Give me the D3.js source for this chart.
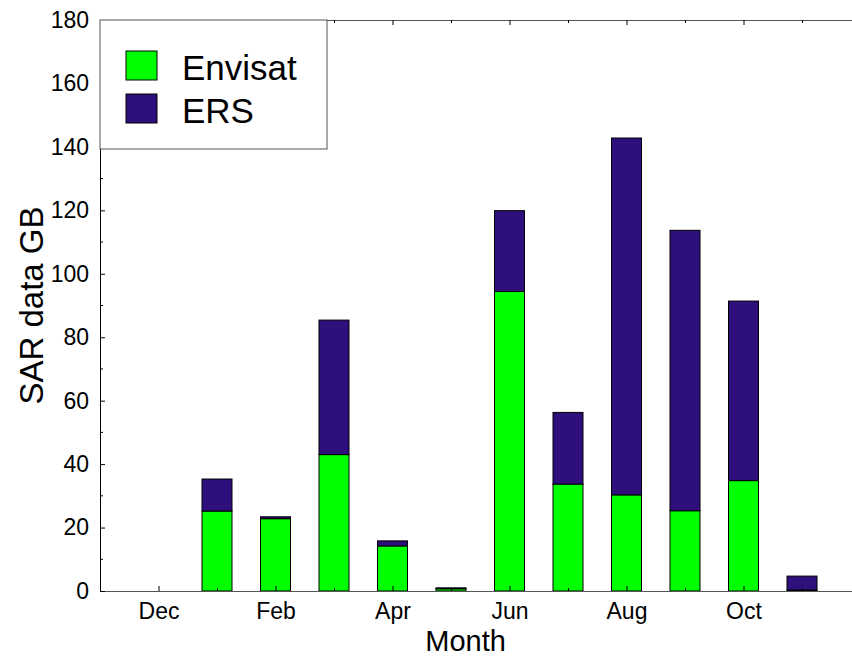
<!DOCTYPE html>
<html>
<head>
<meta charset="utf-8">
<script src="https://cdn.jsdelivr.net/npm/d3@7"></script>
<style>
  body { margin: 0; background: #fff; }
  svg text { font-family: "Liberation Sans", Arial, sans-serif; fill: #000; }
</style>
</head>
<body>
<div id="chart"></div>
<script>
// data
var months = ["Dec", "Jan", "Feb", "Mar", "Apr", "May", "Jun", "Jul", "Aug", "Sep", "Oct", "Nov"];
var envisat = [0, 25.2, 22.8, 43.0, 14.2, 0.7, 94.4, 33.7, 30.3, 25.3, 34.8, 0.3];
var ers = [0, 10.1, 0.6, 42.4, 1.6, 0.3, 25.5, 22.6, 112.5, 88.4, 56.6, 4.4];
var yTicks = [0, 20, 40, 60, 80, 100, 120, 140, 160, 180];
var seriesNames = ["Envisat", "ERS"];
var colors = ["#00ff00", "#2e0f7c"];

var width = 852, height = 659;
var margin = {top: 20, left: 100, bottom: 591};

var rows = months.map(function (m, i) {
    return {month: m, idx: i + 1, Envisat: envisat[i], ERS: ers[i]};
});

var x = d3.scaleLinear().domain([0, 13]).range([margin.left, margin.left + 13 * 58.5]);
var y = d3.scaleLinear().domain([0, 180]).range([margin.bottom, margin.top]);
var color = d3.scaleOrdinal().domain(seriesNames).range(colors);
var barW = 30;

var svg = d3.select("#chart").append("svg")
    .attr("width", width)
    .attr("height", height);

var stacked = d3.stack().keys(seriesNames)(rows);

// bars
svg.append("g").selectAll("g")
    .data(stacked)
    .enter().append("g")
    .attr("fill", function (d) { return color(d.key); })
    .selectAll("rect")
    .data(function (d) { return d.filter(function (p) { return p[1] - p[0] > 0; }); })
    .enter().append("rect")
    .attr("x", function (d) { return x(d.data.idx) - barW / 2; })
    .attr("width", barW)
    .attr("y", function (d) { return y(d[1]); })
    .attr("height", function (d) { return y(d[0]) - y(d[1]); })
    .attr("stroke", "#000")
    .attr("stroke-width", 1);

// x ticks (all months), labels on every other
var xIdx = d3.range(1, 14);
var axisColor = "#555";

function styleAxis(g) {
    g.select(".domain").attr("stroke", axisColor);
    g.selectAll(".tick line").attr("stroke", "#000");
}

var xBottom = svg.append("g")
    .attr("transform", "translate(0," + y(0) + ")")
    .call(d3.axisBottom(x).tickValues(xIdx).tickSizeOuter(0).tickSizeInner(-5)
        .tickFormat(function (d) { return (d - 1) % 2 === 0 && d <= 12 ? months[d - 1] : ""; }))
    .call(styleAxis);
xBottom.selectAll(".tick line").attr("y2", function (d) { return (d - 1) % 2 === 0 ? -5 : -3; });
xBottom.selectAll(".tick text").attr("y", 12).attr("dy", "0.71em").style("font-size", "23px");

var xTop = svg.append("g")
    .attr("transform", "translate(0," + y(180) + ")")
    .call(d3.axisTop(x).tickValues(xIdx).tickSizeOuter(0).tickSizeInner(-5).tickFormat(""))
    .call(styleAxis);
xTop.selectAll(".tick line").attr("y2", function (d) { return (d - 1) % 2 === 0 ? 5 : 3; });

// y axis with minor ticks
var yAxis = svg.append("g")
    .attr("transform", "translate(" + margin.left + ",0)")
    .call(d3.axisLeft(y).tickValues(yTicks).tickSizeOuter(0).tickSizeInner(-5).tickPadding(11))
    .call(styleAxis);
yAxis.select(".domain").attr("stroke", "#000");
yAxis.selectAll(".tick text").style("font-size", "23px");

svg.append("g").selectAll("line")
    .data(d3.range(10, 180, 20))
    .enter().append("line")
    .attr("x1", margin.left).attr("x2", margin.left + 3)
    .attr("y1", function (d) { return y(d); })
    .attr("y2", function (d) { return y(d); })
    .attr("stroke", "#000");

// axis titles
svg.append("text")
    .attr("x", x(6.25))
    .attr("y", 651)
    .attr("text-anchor", "middle")
    .style("font-size", "29px")
    .text("Month");

svg.append("text")
    .attr("transform", "translate(43," + (y(0) + y(180)) / 2 + ") rotate(-90)")
    .attr("text-anchor", "middle")
    .style("font-size", "33px")
    .text("SAR data GB");

// legend
var legend = svg.append("g");
legend.append("rect")
    .attr("x", margin.left).attr("y", margin.top)
    .attr("width", 227).attr("height", 129)
    .attr("fill", "#fff").attr("stroke", axisColor);

var items = legend.selectAll("g.item")
    .data(seriesNames)
    .enter().append("g")
    .attr("class", "item")
    .attr("transform", function (d, i) { return "translate(126," + (51 + i * 43) + ")"; });
items.append("rect")
    .attr("width", 31).attr("height", 29)
    .attr("fill", function (d) { return color(d); })
    .attr("stroke", "#000");
items.append("text")
    .attr("x", 56).attr("y", 29)
    .style("font-size", "35px")
    .text(function (d) { return d; });
</script>
</body>
</html>
